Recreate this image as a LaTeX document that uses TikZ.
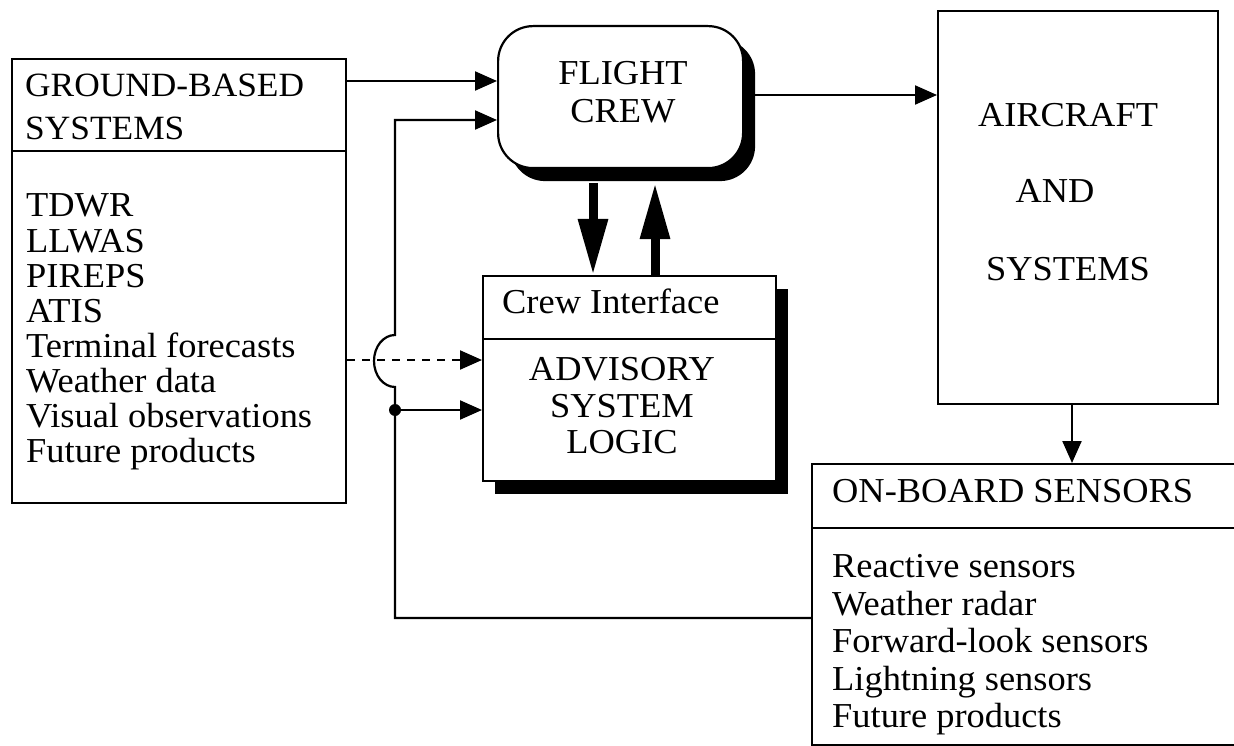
\documentclass[tikz,border=0pt]{standalone}
\usepackage{fontspec}
\setmainfont{Liberation Serif}[FakeStretch=1.04]
\usetikzlibrary{arrows.meta,shadows}
\tikzset{
  box/.style={draw, line width=2.2pt, fill=white, inner sep=0pt, anchor=north west},
  shad/.style={drop shadow={shadow xshift=12pt, shadow yshift=-13pt, fill=black, opacity=1}},
  txt/.style={anchor=base west, inner sep=0pt, font=\fontsize{35}{35}\selectfont},
  ctxt/.style={anchor=base, inner sep=0pt, font=\fontsize{35}{35}\selectfont},
  conn/.style={line width=2.2pt, -{Triangle[length=22pt,width=19pt]}},
  fat/.style={line width=9pt, -{Triangle[length=56pt,width=28pt]}},
}
\begin{document}
\begin{tikzpicture}[x=1pt,y=-1pt]
\useasboundingbox (0,0) rectangle (1234,746);
\clip (0,0) rectangle (1234,746);

% ground-based systems
\node[box, minimum width=334pt, minimum height=92pt] (gbh) at (11,58) {};
\node[box, minimum width=334pt, minimum height=352pt] (gbb) at (11,150) {};
\node[txt, font=\fontsize{34}{34}\selectfont] (gbt1) at (25,97) {GROUND-BASED};
\node[txt, font=\fontsize{34}{34}\selectfont] (gbt2) at (25,140) {SYSTEMS};
\foreach \t [count=\i] in {TDWR,LLWAS,PIREPS,ATIS,Terminal forecasts,Weather data,Visual observations,Future products}
  \node[txt] (gbi\i) at (26,{182+35*\i}) {\t};

% flight crew
\node[box, shad, rounded corners=35pt, minimum width=245pt, minimum height=142pt] (fc) at (497,25) {};
\node[ctxt] (fct1) at (623,85) {FLIGHT};
\node[ctxt] (fct2) at (623,123) {CREW};

% advisory system
\node[box, shad, minimum width=293pt, minimum height=63pt] (advh) at (482,275) {};
\node[box, shad, minimum width=293pt, minimum height=142pt] (advb) at (482,338) {};
\node[txt] (advt0) at (502,313) {Crew Interface};
\node[ctxt] (advt1) at (622,380) {ADVISORY};
\node[ctxt] (advt2) at (622,417) {SYSTEM};
\node[ctxt] (advt3) at (622,453) {LOGIC};

% aircraft
\node[box, minimum width=280pt, minimum height=393pt] (ac) at (937,10) {};
\node[ctxt] (act1) at (1068,127) {AIRCRAFT};
\node[ctxt] (act2) at (1055,203) {AND};
\node[ctxt] (act3) at (1068,280) {SYSTEMS};

% on-board sensors
\node[box, minimum width=440pt, minimum height=64pt] (obh) at (811,463) {};
\node[box, minimum width=440pt, minimum height=217pt] (obb) at (811,527) {};
\node[txt] (obt0) at (832,502) {ON-BOARD SENSORS};
\foreach \t [count=\i] in {Reactive sensors,Weather radar,Forward-look sensors,Lightning sensors,Future products}
  \node[txt] (obi\i) at (832,{540+37.5*\i}) {\t};

% connectors
\coordinate (j) at (395,410);
\coordinate (acs) at (1072,403);
\coordinate (fd) at (593,183);
\coordinate (fu) at (655,183);
\draw[conn] (gbh.east |- 0,81) -- (fc.west |- 0,81);
\draw[conn] (fc.east |- 0,95) -- (ac.west |- 0,95);
\draw[conn] (obb.west |- 0,618) -- (395,618) -- (395,387)
   arc[start angle=90, end angle=270, x radius=21, y radius=26] -- (395,120) -- (fc.west |- 0,120);
\fill (j) circle[radius=6];
\draw[conn] (j) -- (advh.west |- j);
\draw[conn, dash pattern=on 8pt off 7pt] (gbb.east |- 0,360) -- (advb.west |- 0,360);
\draw[conn] (acs) -- (obh.north -| acs);
\draw[fat] (fd) -- (advh.north -| fd);
\draw[fat] (advh.north -| fu) -- (fu);
\end{tikzpicture}
\end{document}
